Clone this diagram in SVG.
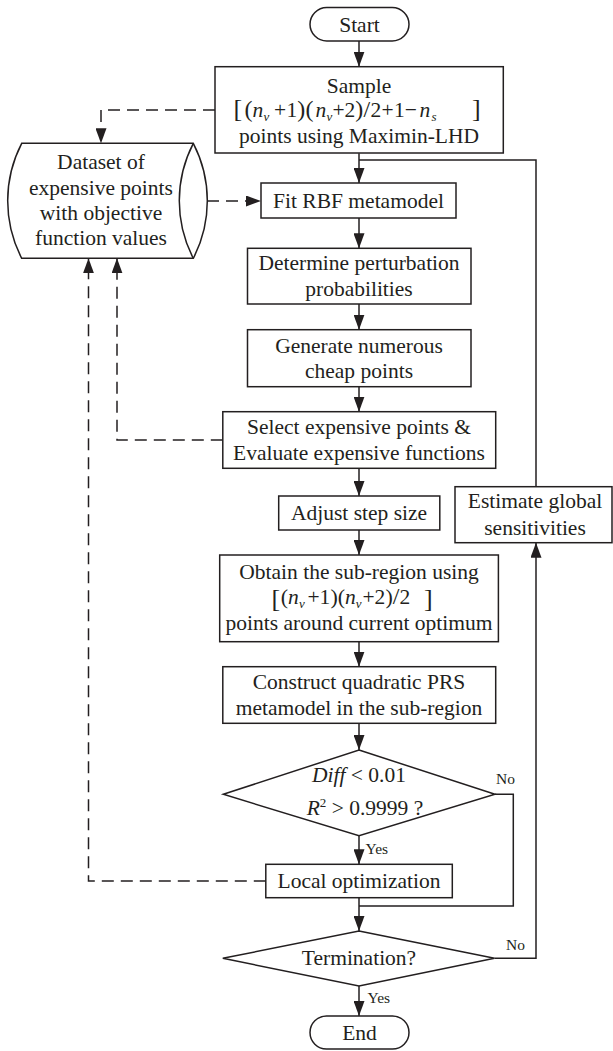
<svg xmlns="http://www.w3.org/2000/svg" width="613" height="1051" viewBox="0 0 613 1051">
<defs>
<marker id="arr" markerUnits="userSpaceOnUse" markerWidth="15" markerHeight="11" viewBox="0 0 15 11" refX="15" refY="5.5" orient="auto"><path d="M0,0 L15,5.5 L0,11 z" fill="#231f20"/></marker>
<style>
.box{fill:#fff;stroke:#231f20;stroke-width:1.5}
.ln{fill:none;stroke:#231f20;stroke-width:1.5}
.ds{fill:none;stroke:#231f20;stroke-width:1.5;stroke-dasharray:12 7}
text{font-family:"Liberation Serif","Times New Roman",serif;font-size:21.5px;fill:#231f20}
.c{text-anchor:middle}
.i{font-style:italic}
.lb{font-size:15.5px}
.sub{font-size:13px;font-style:italic}
.br{font-size:26px}
.pr{font-size:24px}
.pr2{font-size:22px}
.bb{font-size:26px}
</style>
</defs>
<rect width="613" height="1051" fill="#fff"/>

<g id="connectors">
<path class="ln" d="M359,41 V66.7" marker-end="url(#arr)"/>
<path class="ln" d="M359,153.3 V183" marker-end="url(#arr)"/>
<path class="ln" d="M536,486.7 V160 H359"/>
<path class="ln" d="M359,218 V248.3" marker-end="url(#arr)"/>
<path class="ln" d="M359,304 V329.7" marker-end="url(#arr)"/>
<path class="ln" d="M359,386.7 V411.7" marker-end="url(#arr)"/>
<path class="ln" d="M359,468.3 V496" marker-end="url(#arr)"/>
<path class="ln" d="M359,530 V555" marker-end="url(#arr)"/>
<path class="ln" d="M359,641.7 V666.7" marker-end="url(#arr)"/>
<path class="ln" d="M359,723.3 V750" marker-end="url(#arr)"/>
<path class="ln" d="M359,835.7 V864.3" marker-end="url(#arr)"/>
<path class="ln" d="M495,794.3 H513.3 V906 H359"/>
<path class="ln" d="M359,897.7 V931" marker-end="url(#arr)"/>
<path class="ln" d="M494.5,958.3 H536 V542.7" marker-end="url(#arr)"/>
<path class="ln" d="M359,986 V1016" marker-end="url(#arr)"/>
<path class="ds" d="M215,110 H101 V143.3" marker-end="url(#arr)"/>
<path class="ds" d="M207,201 H261" marker-end="url(#arr)"/>
<path class="ds" d="M222.8,440 H117 V258.3" marker-end="url(#arr)"/>
<path class="ds" d="M265.8,881 H88.5 V258.3" marker-end="url(#arr)"/>
<text class="lb" x="365.5" y="854">Yes</text>
<text class="lb" x="496" y="784.3">No</text>
<text class="lb" x="506" y="950">No</text>
<text class="lb" x="367.5" y="1003">Yes</text>
</g>

<g id="start">
<rect class="box" x="310" y="7.5" width="99" height="33.5" rx="16.75"/>
<text class="c" x="359.5" y="31.5">Start</text>
</g>

<g id="sample">
<rect class="box" x="215" y="66.7" width="288.3" height="86.3"/>
<text class="c" x="359" y="93.3">Sample</text>
<text y="117.3"><tspan class="br" x="233.5">[</tspan><tspan class="pr" x="244.5">(</tspan><tspan class="i" x="252.5">n</tspan><tspan class="sub" x="263.5" y="121">v</tspan><tspan x="274" y="117.3">+</tspan><tspan x="286.5">1</tspan><tspan class="pr" x="297.3">)</tspan><tspan class="pr" x="305.5">(</tspan><tspan class="i" x="315.5">n</tspan><tspan class="sub" x="326.5" y="121">v</tspan><tspan x="332.4" y="117.3">+</tspan><tspan x="344.5">2</tspan><tspan class="pr" x="355.3">)</tspan><tspan class="pr" x="363.4">/</tspan><tspan x="370.5">2</tspan><tspan x="381.5">+</tspan><tspan x="394">1</tspan><tspan x="404.8">−</tspan><tspan class="i" x="419.5">n</tspan><tspan class="sub" x="431.5" y="121">s</tspan><tspan class="br" x="472" y="117.3">]</tspan></text>
<text class="c" x="359" y="143.3">points using Maximin-LHD</text>
</g>

<g id="dataset">
<path class="box" d="M21.7,143.3 H193.3 A125,125 0 0 1 193.3,258.3 H21.7 A125,125 0 0 1 21.7,143.3 Z"/>
<path class="ln" d="M193.3,143.3 A125,125 0 0 0 193.3,258.3"/>
<text class="c" x="101" y="169.3">Dataset of</text>
<text class="c" x="101" y="195">expensive points</text>
<text class="c" x="101" y="220">with objective</text>
<text class="c" x="101" y="245">function values</text>
</g>

<g id="fit">
<rect class="box" x="261" y="183" width="195" height="35"/>
<text class="c" x="358.5" y="207.5">Fit RBF metamodel</text>
</g>

<g id="determine">
<rect class="box" x="247.5" y="248.3" width="223.5" height="55.7"/>
<text class="c" x="359" y="270.4">Determine perturbation</text>
<text class="c" x="359" y="295.9">probabilities</text>
</g>

<g id="generate">
<rect class="box" x="247.5" y="329.7" width="223.5" height="57"/>
<text class="c" x="359" y="352.5">Generate numerous</text>
<text class="c" x="359" y="378">cheap points</text>
</g>

<g id="select">
<rect class="box" x="222.8" y="411.7" width="272.9" height="56.6"/>
<text class="c" x="359" y="434.3">Select expensive points &amp;</text>
<text class="c" x="359" y="459.8">Evaluate expensive functions</text>
</g>

<g id="adjust">
<rect class="box" x="278.7" y="496" width="161.1" height="34"/>
<text class="c" x="359" y="520">Adjust step size</text>
</g>

<g id="estimate">
<rect class="box" x="455" y="486.7" width="157" height="56"/>
<text class="c" x="535" y="507.5">Estimate global</text>
<text class="c" x="535" y="534.5">sensitivities</text>
</g>

<g id="obtain">
<rect class="box" x="219.7" y="555" width="278.7" height="86.7"/>
<text class="c" x="359" y="579">Obtain the sub-region using</text>
<text y="604"><tspan class="bb" x="271.5" y="607">[</tspan><tspan class="pr2" x="280.8" y="604">(</tspan><tspan class="i" x="288">n</tspan><tspan class="sub" x="299" y="607.5">v</tspan><tspan x="307.5" y="604">+</tspan><tspan x="319.6">1</tspan><tspan class="pr2" x="330.4">)</tspan><tspan class="pr2" x="337.7">(</tspan><tspan class="i" x="345">n</tspan><tspan class="sub" x="355.8" y="607.5">v</tspan><tspan x="362.5" y="604">+</tspan><tspan x="374.6">2</tspan><tspan class="pr2" x="385.4">)</tspan><tspan class="pr" x="392.7">/</tspan><tspan x="399.4">2</tspan><tspan class="bb" x="424" y="607">]</tspan></text>
<text class="c" x="359" y="630">points around current optimum</text>
</g>

<g id="construct">
<rect class="box" x="222.8" y="666.7" width="272.9" height="56.6"/>
<text class="c" x="359" y="689.3">Construct quadratic PRS</text>
<text class="c" x="359" y="714.8">metamodel in the sub-region</text>
</g>

<g id="check">
<polygon class="box" points="359,750 495,794.3 359,835.7 223.3,794.3"/>
<text class="c" x="359" y="782.3"><tspan class="i">Diff</tspan> &lt; 0.01</text>
<text class="c" x="365" y="815"><tspan class="i">R</tspan><tspan style="font-size:13px" dy="-8">2</tspan><tspan dy="8"> &gt; 0.9999 ?</tspan></text>
</g>

<g id="local">
<rect class="box" x="265.8" y="864.3" width="186.5" height="33.4"/>
<text class="c" x="359" y="888">Local optimization</text>
</g>

<g id="termination">
<polygon class="box" points="359,931 494.5,958.3 359,986 222.8,958.3"/>
<text class="c" x="359" y="965">Termination?</text>
</g>

<g id="end">
<rect class="box" x="310" y="1016" width="99" height="33" rx="16.5"/>
<text class="c" x="359.5" y="1039.5">End</text>
</g>
</svg>
